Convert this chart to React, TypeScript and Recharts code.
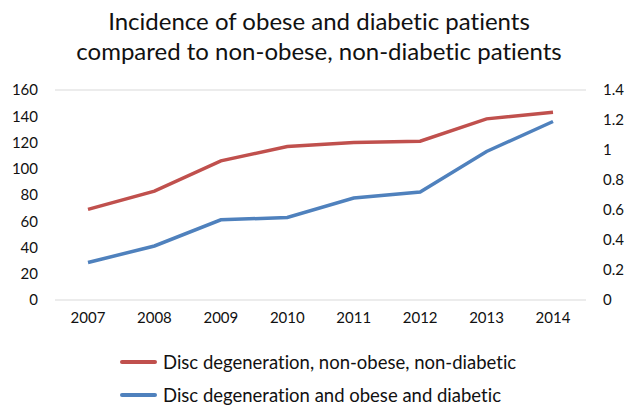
import { ComposedChart, Line, XAxis, YAxis, CartesianGrid, Legend } from "recharts";

const years = ["2007", "2008", "2009", "2010", "2011", "2012", "2013", "2014"];
const nonObese = [69, 83, 106, 117, 120, 121, 138, 143];
const obeseDiabetic = [0.25, 0.36, 0.535, 0.55, 0.68, 0.72, 0.99, 1.19];
const leftTicks = [0, 20, 40, 60, 80, 100, 120, 140, 160];
const rightTicks = [0, 0.2, 0.4, 0.6, 0.8, 1, 1.2, 1.4];

const data = years.map((year, i) => ({
  year,
  nonObese: nonObese[i],
  obeseDiabetic: obeseDiabetic[i],
}));

const FONT = "Lato, 'Open Sans', sans-serif";

const legendItems = [
  { label: "Disc degeneration, non-obese, non-diabetic", color: "#c0504d" },
  { label: "Disc degeneration and obese and diabetic", color: "#4f81bd" },
];

const CustomLegend = () => {
  return (
    <div style={{ height: 70, fontFamily: FONT, fontSize: 18.5, color: "#111" }}>
      {legendItems.map((item) => (
        <div
          key={item.label}
          style={{ height: 33, display: "flex", alignItems: "center", paddingLeft: 120 }}
        >
          <span
            style={{
              display: "inline-block",
              width: 37,
              height: 4,
              background: item.color,
              borderRadius: 2,
              marginRight: 6,
            }}
          />
          <span>{item.label}</span>
        </div>
      ))}
    </div>
  );
};

const App = () => {
  return (
    <div
      style={{
        position: "relative",
        width: 638,
        height: 405,
        overflow: "hidden",
        background: "#fff",
        fontVariantLigatures: "none",
      }}
    >
      <style>{`body { margin: 0; } svg text { font-variant-ligatures: none; }`}</style>
      <div
        style={{
          position: "absolute",
          top: 6,
          left: 0,
          width: 638,
          textAlign: "center",
          fontFamily: FONT,
          fontSize: 24,
          lineHeight: "30px",
          color: "#111",
          zIndex: 1,
        }}
      >
        Incidence of obese and diabetic patients
        <br />
        compared to non-obese, non-diabetic patients
      </div>
      <ComposedChart
        width={638}
        height={420}
        data={data}
        margin={{ top: 90, right: 0, left: 0, bottom: 5 }}
      >
        <CartesianGrid vertical={false} stroke="#d9d9d9" strokeWidth={1.2} />
        <XAxis
          dataKey="year"
          axisLine={false}
          tickLine={false}
          tickMargin={6}
          height={45}
          padding={{ left: 33, right: 33 }}
          tick={{ fill: "#111", fontSize: 15, fontFamily: FONT }}
        />
        <YAxis
          yAxisId="left"
          domain={[0, 160]}
          ticks={leftTicks}
          axisLine={false}
          tickLine={false}
          tickMargin={11}
          width={55}
          tick={{ fill: "#111", fontSize: 15, fontFamily: FONT }}
        />
        <YAxis
          yAxisId="right"
          orientation="right"
          domain={[0, 1.4]}
          ticks={rightTicks}
          axisLine={false}
          tickLine={false}
          tickMargin={11}
          width={52}
          tick={{ fill: "#111", fontSize: 15, fontFamily: FONT, textAnchor: "start" }}
        />
        <Legend verticalAlign="bottom" content={<CustomLegend />} />
        <Line
          yAxisId="left"
          type="linear"
          dataKey="nonObese"
          stroke="#c0504d"
          strokeWidth={3.5}
          dot={false}
          isAnimationActive={false}
        />
        <Line
          yAxisId="right"
          type="linear"
          dataKey="obeseDiabetic"
          stroke="#4f81bd"
          strokeWidth={3.5}
          dot={false}
          isAnimationActive={false}
        />
      </ComposedChart>
    </div>
  );
};

export default App;
